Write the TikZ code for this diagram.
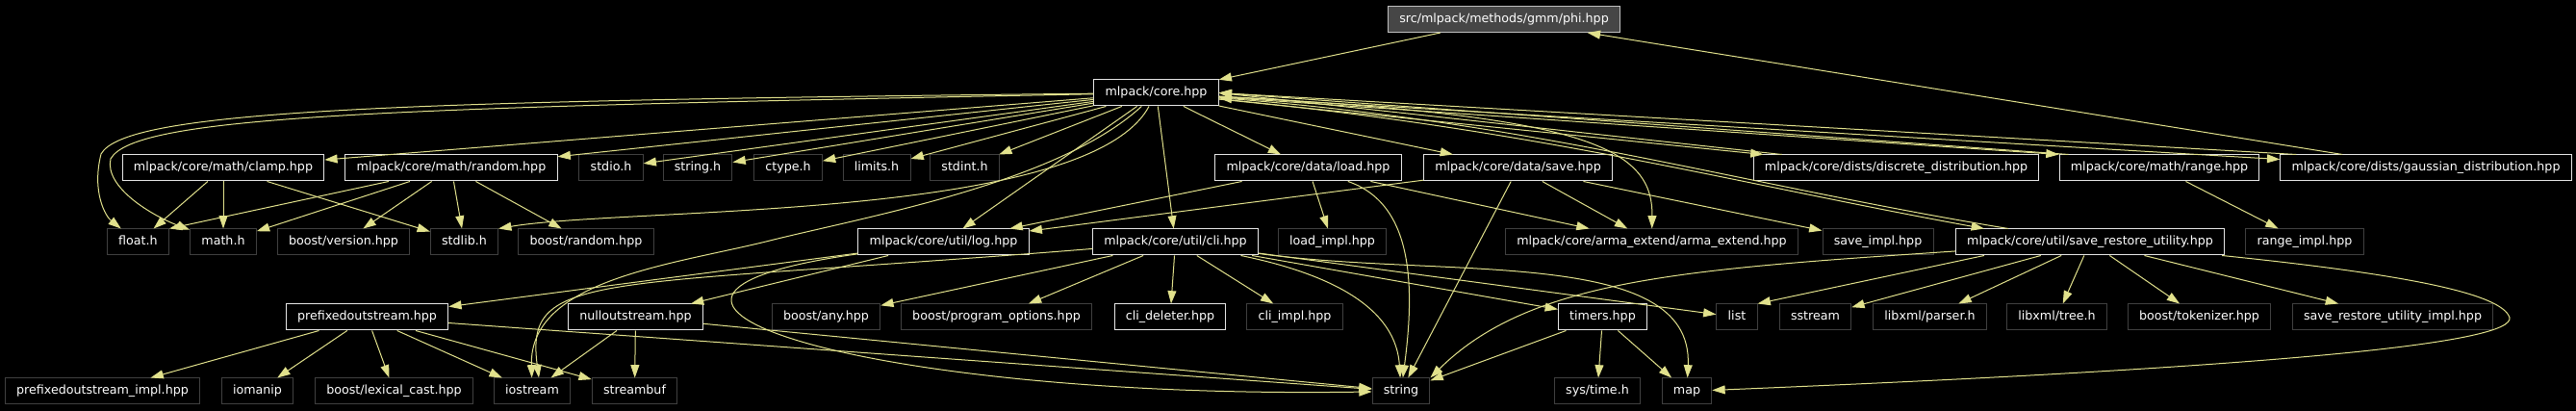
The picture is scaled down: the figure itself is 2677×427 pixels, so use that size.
\documentclass[tikz,border=0pt]{standalone}
\usepackage{fontspec}
\setmainfont{DejaVu Sans}
\usetikzlibrary{arrows.meta,calc}

\definecolor{edgeyellow}{RGB}{225,225,140}
\definecolor{docline}{RGB}{230,230,230}
\definecolor{extline}{RGB}{64,64,64}
\definecolor{phifill}{RGB}{70,70,70}
\definecolor{philine}{RGB}{191,191,191}

\begin{document}
\begin{tikzpicture}[
  x=0.75pt, y=-0.75pt,
  file/.style={minimum height=20.25pt, inner xsep=8.8pt, inner ysep=0pt, text=white, fill=black, line width=0.75pt, font=\fontsize{9.5}{11}\selectfont, text height=7.2pt, text depth=2.2pt},
  doc/.style={file, draw=docline},
  ext/.style={file, draw=extline},
  main/.style={file, draw=philine, fill=phifill},
  dep/.style={-{Triangle[length=10pt,width=6.7pt]}, draw=edgeyellow, line width=0.75pt}
]
\fill[black] (0,0) rectangle (2677,427);
\useasboundingbox (0,0) rectangle (2677,427);

\node[main] (phi) at (1563,20) {src/mlpack/methods/gmm/phi.hpp};
\node[doc] (core) at (1201.5,96.5) {mlpack/core.hpp};

\node[doc] (clamp) at (232,174.5) {mlpack/core/math/clamp.hpp};
\node[doc] (random) at (469,174.5) {mlpack/core/math/random.hpp};
\node[ext] (stdioh) at (635,174.5) {stdio.h};
\node[ext] (stringh) at (725,174.5) {string.h};
\node[ext] (ctypeh) at (819,174.5) {ctype.h};
\node[ext] (limitsh) at (911,174.5) {limits.h};
\node[ext] (stdinth) at (1002.5,174.5) {stdint.h};
\node[doc] (load) at (1359.5,174.5) {mlpack/core/data/load.hpp};
\node[doc] (save) at (1577.5,174.5) {mlpack/core/data/save.hpp};
\node[doc] (discrete) at (1970.5,174.5) {mlpack/core/dists/discrete\_distribution.hpp};
\node[doc] (range) at (2244,174.5) {mlpack/core/math/range.hpp};
\node[doc] (gaussian) at (2521,174.5) {mlpack/core/dists/gaussian\_distribution.hpp};

\node[ext] (floath) at (143.5,251.5) {float.h};
\node[ext] (mathh) at (232,251.5) {math.h};
\node[ext] (bversion) at (357,251.5) {boost/version.hpp};
\node[ext] (stdlibh) at (482.5,251.5) {stdlib.h};
\node[ext] (brandom) at (609,251.5) {boost/random.hpp};
\node[doc] (log) at (980.5,251.5) {mlpack/core/util/log.hpp};
\node[doc] (cli) at (1221.5,251.5) {mlpack/core/util/cli.hpp};
\node[ext] (loadimpl) at (1384.5,251.5) {load\_impl.hpp};
\node[ext] (arma) at (1716.5,251.5) {mlpack/core/arma\_extend/arma\_extend.hpp};
\node[ext] (saveimpl) at (1951.5,251.5) {save\_impl.hpp};
\node[doc] (sru) at (2172,251.5) {mlpack/core/util/save\_restore\_utility.hpp};
\node[ext] (rangeimpl) at (2395,251.5) {range\_impl.hpp};

\node[doc] (prefixed) at (381.5,329.5) {prefixedoutstream.hpp};
\node[doc] (nullout) at (660.5,329.5) {nulloutstream.hpp};
\node[ext] (bany) at (858.5,329.5) {boost/any.hpp};
\node[ext] (bpo) at (1035.5,329.5) {boost/program\_options.hpp};
\node[doc] (clidel) at (1216,329.5) {cli\_deleter.hpp};
\node[ext] (cliimpl) at (1345.5,329.5) {cli\_impl.hpp};
\node[doc] (timers) at (1665.5,329.5) {timers.hpp};
\node[ext] (list) at (1805,329.5) {list};
\node[ext] (sstream) at (1886.5,329.5) {sstream};
\node[ext] (xmlparser) at (2005.5,329.5) {libxml/parser.h};
\node[ext] (xmltree) at (2137.5,329.5) {libxml/tree.h};
\node[ext] (btok) at (2285.5,329.5) {boost/tokenizer.hpp};
\node[ext] (sruimpl) at (2486.5,329.5) {save\_restore\_utility\_impl.hpp};

\node[ext] (prefiximpl) at (106.5,406.5) {prefixedoutstream\_impl.hpp};
\node[ext] (iomanip) at (267.5,406.5) {iomanip};
\node[ext] (blexical) at (409.5,406.5) {boost/lexical\_cast.hpp};
\node[ext] (iostream) at (553,406.5) {iostream};
\node[ext] (streambuf) at (659.5,406.5) {streambuf};
\node[ext] (string) at (1456,406.5) {string};
\node[ext] (systime) at (1660,406.5) {sys/time.h};
\node[ext] (map) at (1753,406.5) {map};

\coordinate (floatbend) at (105,160);
\coordinate (mathbend) at (115,165);
\coordinate (iobend) at (800,250);
\coordinate (mapbend) at (2608,330);

\draw[dep] (phi) -- (core);
\draw[dep] (gaussian) -- (phi);

\draw[dep] (core) .. controls (400,105) and (130,115) .. (floatbend) .. controls (95,200) and (110,225) .. (floath);
\draw[dep] (core) .. controls (400,112) and (140,120) .. (mathbend) .. controls (108,195) and (160,225) .. (mathh);
\draw[dep] (core) -- (clamp);
\draw[dep] (core) -- (random);
\draw[dep] (core) -- (stdioh);
\draw[dep] (core) -- (stringh);
\draw[dep] (core) -- (ctypeh);
\draw[dep] (core) -- (limitsh);
\draw[dep] (core) -- (stdinth);
\draw[dep] (core) .. controls (1130,230) and (650,215) .. (stdlibh.north east);
\draw[dep] (core) .. controls (1100,190) and (900,225) .. (iobend) .. controls (700,275) and (550,290) .. (iostream);
\draw[dep] (core) -- (log);
\draw[dep] (core) -- (cli);
\draw[dep] (core) -- (load);
\draw[dep] (core) -- (save);
\draw[dep] (core) .. controls (1640,120) and (1718,150) .. (arma);
\draw[dep] (core) -- (discrete);
\draw[dep] (core) -- (range.north west);
\draw[dep] (core) -- (gaussian);
\draw[dep] (core) .. controls (1600,135) and (1800,190) .. ($(sru.north west)+(30,0)$);

\draw[dep] ($(discrete.north west)+(30,0)$) -- (core.east);
\draw[dep] ($(range.north west)+(10,0)$) -- (core.east);
\draw[dep] ($(gaussian.north west)+(17,0)$) -- (core.east);
\draw[dep] ($(sru.north west)+(55,0)$) .. controls (1800,190) and (1600,128) .. (core);

\draw[dep] (clamp) -- (floath);
\draw[dep] (clamp) -- (mathh);
\draw[dep] (clamp) -- (stdlibh);
\draw[dep] (random) -- (floath.north east);
\draw[dep] (random) -- (mathh);
\draw[dep] (random) -- (bversion);
\draw[dep] (random) -- (stdlibh);
\draw[dep] (random) -- (brandom);

\draw[dep] (load) -- (log);
\draw[dep] (load) -- (loadimpl);
\draw[dep] (load) .. controls (1470,212) and (1470,300) .. (string);
\draw[dep] (load) -- (arma);
\draw[dep] (save) -- (log);
\draw[dep] (save) -- (string);
\draw[dep] (save) -- (arma);
\draw[dep] (save) -- (saveimpl);
\draw[dep] (range) -- (rangeimpl);

\draw[dep] (log) -- (prefixed);
\draw[dep] (log) -- (nullout);
\draw[dep] (log) .. controls (560,310) and (900,415) .. (string);

\draw[dep] (cli) .. controls (620,300) and (545,280) .. ($(iostream.north)+(7,0)$);
\draw[dep] (cli) -- (bany);
\draw[dep] (cli) -- (bpo);
\draw[dep] (cli) -- (clidel);
\draw[dep] (cli) -- (cliimpl);
\draw[dep] (cli) .. controls (1360,280) and (1450,310) .. (string);
\draw[dep] (cli) -- (timers);
\draw[dep] (cli) -- (list);
\draw[dep] (cli) .. controls (1500,290) and (1760,255) .. (map);

\draw[dep] (timers) -- (string);
\draw[dep] (timers) -- (systime);
\draw[dep] (timers) -- (map);

\draw[dep] ($(sru.south west)+(30,0)$) -- (list.north east);
\draw[dep] (sru) -- (sstream);
\draw[dep] (sru) -- (xmlparser);
\draw[dep] (sru) -- (xmltree);
\draw[dep] (sru) -- (btok);
\draw[dep] (sru) -- (sruimpl);
\draw[dep] (sru) .. controls (1750,280) and (1590,290) .. (string.north east);
\draw[dep] (sru) .. controls (2500,285) and (2600,305) .. (mapbend) .. controls (2612,355) and (2400,380) .. (map);

\draw[dep] (prefixed) -- (prefiximpl);
\draw[dep] (prefixed) -- (iomanip);
\draw[dep] (prefixed) -- (blexical);
\draw[dep] (prefixed) -- (iostream);
\draw[dep] (prefixed) -- (streambuf);
\draw[dep] (prefixed) -- (string);

\draw[dep] (nullout) -- (iostream);
\draw[dep] (nullout) -- (streambuf);
\draw[dep] (nullout) -- (string);
\end{tikzpicture}
\end{document}
